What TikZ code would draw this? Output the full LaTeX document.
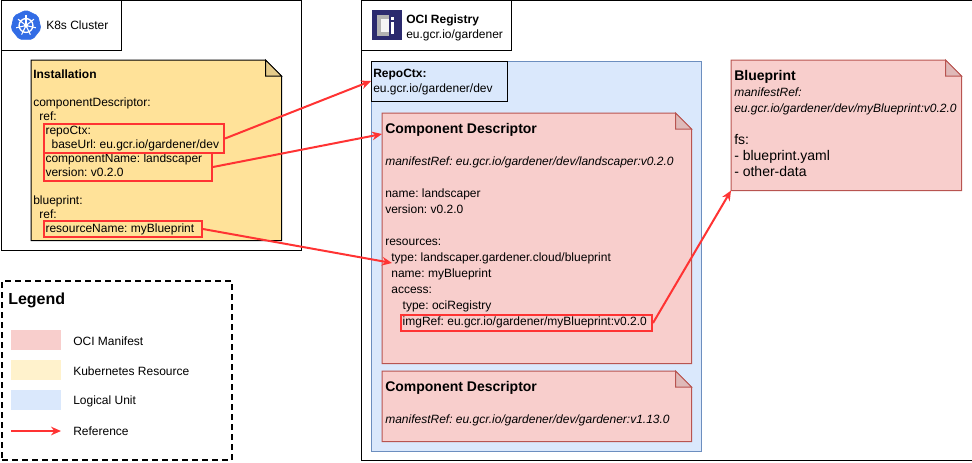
\documentclass[tikz,border=0pt]{standalone}
\usepackage{fontspec}
\setmainfont{Liberation Sans}
\frenchspacing
\usetikzlibrary{arrows.meta,shapes.geometric}
\definecolor{vred}{HTML}{FF3333}
\definecolor{vpink}{HTML}{F8CECC}
\definecolor{vpinkline}{HTML}{B85450}
\definecolor{vamber}{HTML}{FFE299}
\definecolor{vcream}{HTML}{FFF2CC}
\definecolor{vsky}{HTML}{DAE8FC}
\definecolor{vskyline}{HTML}{6C8EBF}
\definecolor{vkube}{HTML}{326CE5}
\definecolor{vnavy}{HTML}{2B2A6E}
\newdimen\indunit
\indunit=2.295pt
\newcommand{\ind}[1]{\hspace*{#1\indunit}}
\newcommand{\foldnote}[3]{% node name, fill, line
  \draw[line width=0.75pt,draw=#3,fill=#2]
    (#1.north west) -- ([xshift=-12pt]#1.north east) -- ([yshift=-12pt]#1.north east)
    -- (#1.south east) -- (#1.south west) -- cycle;
  \draw[line width=0.75pt,draw=#3,fill=#2!90!black]
    ([xshift=-12pt]#1.north east) -- ([xshift=-12pt,yshift=-12pt]#1.north east)
    -- ([yshift=-12pt]#1.north east) -- cycle;
}
\tikzset{
  x=0.75pt,y=-0.75pt,
  frame/.style={draw=black,line width=0.75pt,inner sep=0pt,anchor=north west},
  notebg/.style={inner sep=0pt,anchor=north west},
  hilite/.style={draw=vred,line width=1.5pt,inner sep=0pt,anchor=north west},
  swatch/.style={inner sep=0pt,anchor=north west,minimum width=37.5pt,minimum height=15pt},
  txt/.style={inner sep=0pt,anchor=north west,align=left,font=\fontsize{9}{12}\selectfont},
  tight/.style={txt,font=\fontsize{9}{10.5}\selectfont},
  legendtxt/.style={inner sep=0pt,anchor=west,font=\fontsize{9}{12}\selectfont},
  refarr/.style={-{Stealth[length=7.5pt,width=6.5pt]},line width=1.5pt,draw=vred},
}
\begin{document}
\begin{tikzpicture}
  \useasboundingbox (0,0) rectangle (972,462);
  % cluster side
  \node[frame,minimum width=225pt,minimum height=187.5pt] (cluster) at (1,0) {};
  \node[frame,minimum width=90pt,minimum height=37.5pt] (clusterhead) at (1,0) {};
  \node[regular polygon,regular polygon sides=7,fill=vkube,draw=vkube,rounded corners=1.5pt,
    minimum size=23pt,inner sep=0pt,line width=0.5pt] (k8sicon) at (26,25.5) {};
  \draw[white,line width=1pt] (k8sicon.center) circle (5.2pt);
  \foreach \a in {90,141.4,...,400}
    \draw[white,line width=0.8pt] (k8sicon.center) -- ++(\a:7.6pt);
  \fill[white] (k8sicon.center) circle (1.5pt);
  \node[legendtxt] (clustertitle) at (46,25.5) {K8s Cluster};

  \node[notebg,minimum width=187.5pt,minimum height=135pt] (install) at (31,60) {};
  \foldnote{install}{vamber}{black}
  \node[tight] (installtxt) at (33,70) {\textbf{Installation}\\[10.5pt]
    componentDescriptor:\\
    \ind{2}ref:\\
    \ind{4}repoCtx:\\
    \ind{6}baseUrl: eu.gcr.io/gardener/dev\\
    \ind{4}componentName: landscaper\\
    \ind{4}version: v0.2.0\\[10.5pt]
    blueprint:\\
    \ind{2}ref:\\
    \ind{4}resourceName: myBlueprint};
  \node[hilite,minimum width=135pt,minimum height=21.75pt] (hlrepo) at (43,123) {};
  \node[hilite,minimum width=126pt,minimum height=21pt] (hlcomp) at (43,152) {};
  \node[hilite,minimum width=118.5pt,minimum height=12pt] (hlres) at (43,220) {};

  % legend
  \node[frame,dashed,dash pattern=on 4.5pt off 3pt,line width=1.5pt,minimum width=172.5pt,minimum height=134.25pt] (legend) at (1,280) {};
  \node[inner sep=0pt,anchor=west,font=\fontsize{12}{14}\selectfont\bfseries] (legendtitle) at (8,300.5) {Legend};
  \node[swatch,fill=vpink] (swmanifest) at (11,330) {};
  \node[swatch,fill=vcream] (swkube) at (11,360) {};
  \node[swatch,fill=vsky] (swunit) at (11,390) {};
  \coordinate (arrstart) at (11,431);
  \coordinate (arrend) at (61,431);
  \draw[refarr] (arrstart) -- (arrend);
  \node[legendtxt] (lgmanifest) at (73,341) {OCI Manifest};
  \node[legendtxt] (lgkube) at (73,371) {Kubernetes Resource};
  \node[legendtxt] (lgunit) at (73,401) {Logical Unit};
  \node[legendtxt] (lgref) at (73,431) {Reference};

  % registry side
  \node[frame,minimum width=458.25pt,minimum height=345pt] (registry) at (361,0) {};
  \node[frame,minimum width=112.5pt,minimum height=37.5pt] (registryhead) at (361,0) {};
  \node[fill=vnavy,inner sep=0pt,minimum size=22.5pt,anchor=north west] (ociicon) at (371.5,10) {};
  \fill[gray!60] ([shift={(3.75pt,-3.75pt)}]ociicon.north west) rectangle ([shift={(-3.75pt,3.75pt)}]ociicon.south east);
  \fill[white!92!gray] ([shift={(6.75pt,-6.75pt)}]ociicon.north west) rectangle ([shift={(13pt,6.75pt)}]ociicon.south west);
  \fill[vnavy] ([shift={(13pt,-3.75pt)}]ociicon.north west) rectangle ([shift={(-3.75pt,3.75pt)}]ociicon.south east);
  \fill[white] ([shift={(14.75pt,-9pt)}]ociicon.north west) rectangle ([shift={(17pt,5pt)}]ociicon.south west);
  \fill[white] ([shift={(14.75pt,-5pt)}]ociicon.north west) rectangle ([shift={(17pt,-7.4pt)}]ociicon.north west);
  \node[txt,font=\fontsize{9}{11.25}\selectfont] (registrytitle) at (406,14.5) {\textbf{OCI Registry}\\eu.gcr.io/gardener};

  \node[notebg,fill=vsky,draw=vskyline,line width=0.75pt,minimum width=247.5pt,minimum height=292.5pt] (unit) at (371,60.5) {};
  \node[frame,minimum width=102pt,minimum height=30pt] (repobox) at (371,60.5) {};
  \node[txt,font=\fontsize{9}{11.25}\selectfont] (repotxt) at (373,69) {\textbf{RepoCtx:}\\eu.gcr.io/gardener/dev};

  \node[notebg,minimum width=231.75pt,minimum height=187.5pt] (cdland) at (382,113) {};
  \foldnote{cdland}{vpink}{vpinkline}
  \node[txt] (cdlandtxt) at (385,123) {{\fontsize{10.5}{12}\selectfont\bfseries Component Descriptor}\\[12pt]
    \textit{manifestRef: eu.gcr.io/gardener/dev/landscaper:v0.2.0}\\[12pt]
    name: landscaper\\
    version: v0.2.0\\[12pt]
    resources:\\
    \ind{2}type: landscaper.gardener.cloud/blueprint\\
    \ind{2}name: myBlueprint\\
    \ind{2}access:\\
    \ind{5.7}type: ociRegistry\\
    \ind{5.7}imgRef: eu.gcr.io/gardener/myBlueprint:v0.2.0};
  \node[hilite,minimum width=188.25pt,minimum height=12pt] (hlimg) at (400,314) {};
  \coordinate (typeline) at (392,263);

  \node[notebg,minimum width=231.75pt,minimum height=52.5pt] (cdgard) at (382,371) {};
  \foldnote{cdgard}{vpink}{vpinkline}
  \node[txt] (cdgardtxt) at (385,381) {{\fontsize{10.5}{12}\selectfont\bfseries Component Descriptor}\\[12pt]
    \textit{manifestRef: eu.gcr.io/gardener/dev/gardener:v1.13.0}};

  \node[notebg,minimum width=172.5pt,minimum height=97.5pt] (blueprint) at (731,60) {};
  \foldnote{blueprint}{vpink}{vpinkline}
  \node[txt] (blueprinttxt) at (734,70) {{\fontsize{10.5}{12}\selectfont\bfseries Blueprint}\\
    \textit{manifestRef:}\\
    \textit{eu.gcr.io/gardener/dev/myBlueprint:v0.2.0}\\[12pt]
    {\fontsize{10.5}{12}\selectfont fs:}\\
    {\fontsize{10.5}{12}\selectfont - blueprint.yaml}\\
    {\fontsize{10.5}{12}\selectfont - other-data}};

  % references
  \draw[refarr] (hlrepo.east) -- (repobox.west);
  \draw[refarr] (hlcomp.east) -- ([yshift=-15.75pt]cdland.north west);
  \draw[refarr] (hlres.east) -- (typeline);
  \draw[refarr] (hlimg.east) -- (blueprint.south west);
\end{tikzpicture}
\end{document}
